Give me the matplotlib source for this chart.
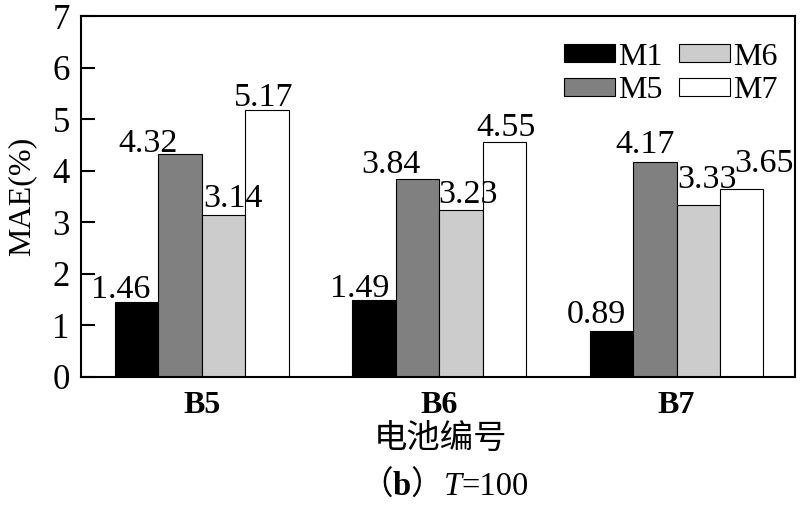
import matplotlib
matplotlib.use("Agg")
import matplotlib.pyplot as plt
import numpy as np

# data
batteries = ["B5", "B6", "B7"]
models = ["M1", "M5", "M6", "M7"]
m1 = [1.46, 1.49, 0.89]
m5 = [4.32, 3.84, 4.17]
m6 = [3.14, 3.23, 3.33]
m7 = [5.17, 4.55, 3.65]

colors = ["#000000", "#808080", "#cccccc", "#ffffff"]
# label nudges in pixels (dx, dy) so the numbers sit like in the original
nudges = [
    [(-16, 4), (-14, 3), (-15, 8)],
    [(-32, 2), (-27, 6), (-10, 9)],
    [(9, 8), (7, 7), (9, 17)],
    [(-3, 4), (2, 6), (22, 17)],
]

serif = "Liberation Serif"
plt.rcParams["font.family"] = [serif, "Noto Sans CJK SC"]

fig = plt.figure(figsize=(8, 5.05), dpi=100)
ax = fig.add_axes([0.101, 0.2535, 0.893, 0.7145])

x = np.arange(len(batteries))
w = 0.183
series = [m1, m5, m6, m7]
for i, (vals, name) in enumerate(zip(series, models)):
    pos = x + (i - 1.5) * w
    ax.bar(pos, vals, w, color=colors[i], edgecolor="black", linewidth=0.8,
           label=name, zorder=2)
    for j, v in enumerate(vals):
        dx, dy = nudges[i][j]
        ax.annotate(f"{v:.2f}", (pos[j], v), xytext=(dx, dy),
                    textcoords="offset pixels", ha="center", va="baseline",
                    fontsize=24.5, family=serif)

ax.set_xlim(-0.51, 2.5)
ax.set_ylim(0, 7)
ax.set_yticks(range(8))
ax.set_xticks(x)
ax.set_xticklabels(batteries, fontsize=23, fontweight="bold", family=serif)
ax.tick_params(axis="y", direction="in", length=10, width=1.5, labelsize=25, pad=8)
ax.tick_params(axis="x", length=0, pad=10)
for sp in ax.spines.values():
    sp.set_linewidth(1.5)

ax.set_ylabel("MAE(%)", fontsize=23, family=serif)
ax.yaxis.set_label_coords(-0.062, 0.5)

ax.legend(ncol=2, loc="upper right", bbox_to_anchor=(1.002, 0.98), frameon=False,
          handlelength=1.6, handleheight=0.46, handletextpad=0.1,
          columnspacing=0.5, labelspacing=0.15, borderaxespad=0.2,
          prop={"family": serif, "size": 23})

fig.text(441 / 800, 1 - 438 / 505, "电池编号", ha="center", va="center",
         fontsize=24, family=["Noto Sans CJK SC"])

# caption built from pieces so the T can be italic and b bold
renderer = fig.canvas.get_renderer()
pieces = [("（", dict(family=["Noto Sans CJK SC"])),
          ("b", dict(family=serif, fontweight="bold")),
          ("）", dict(family=["Noto Sans CJK SC"])),
          ("T", dict(family=serif, style="italic")),
          ("=100", dict(family=serif))]
cx = 360
cy = 1 - 495 / 505
for s, kw in pieces:
    t = fig.text(cx / 800, cy, s, ha="left", va="baseline", fontsize=23.5, **kw)
    cx = t.get_window_extent(renderer).x1

fig.savefig("out.png", dpi=100)
